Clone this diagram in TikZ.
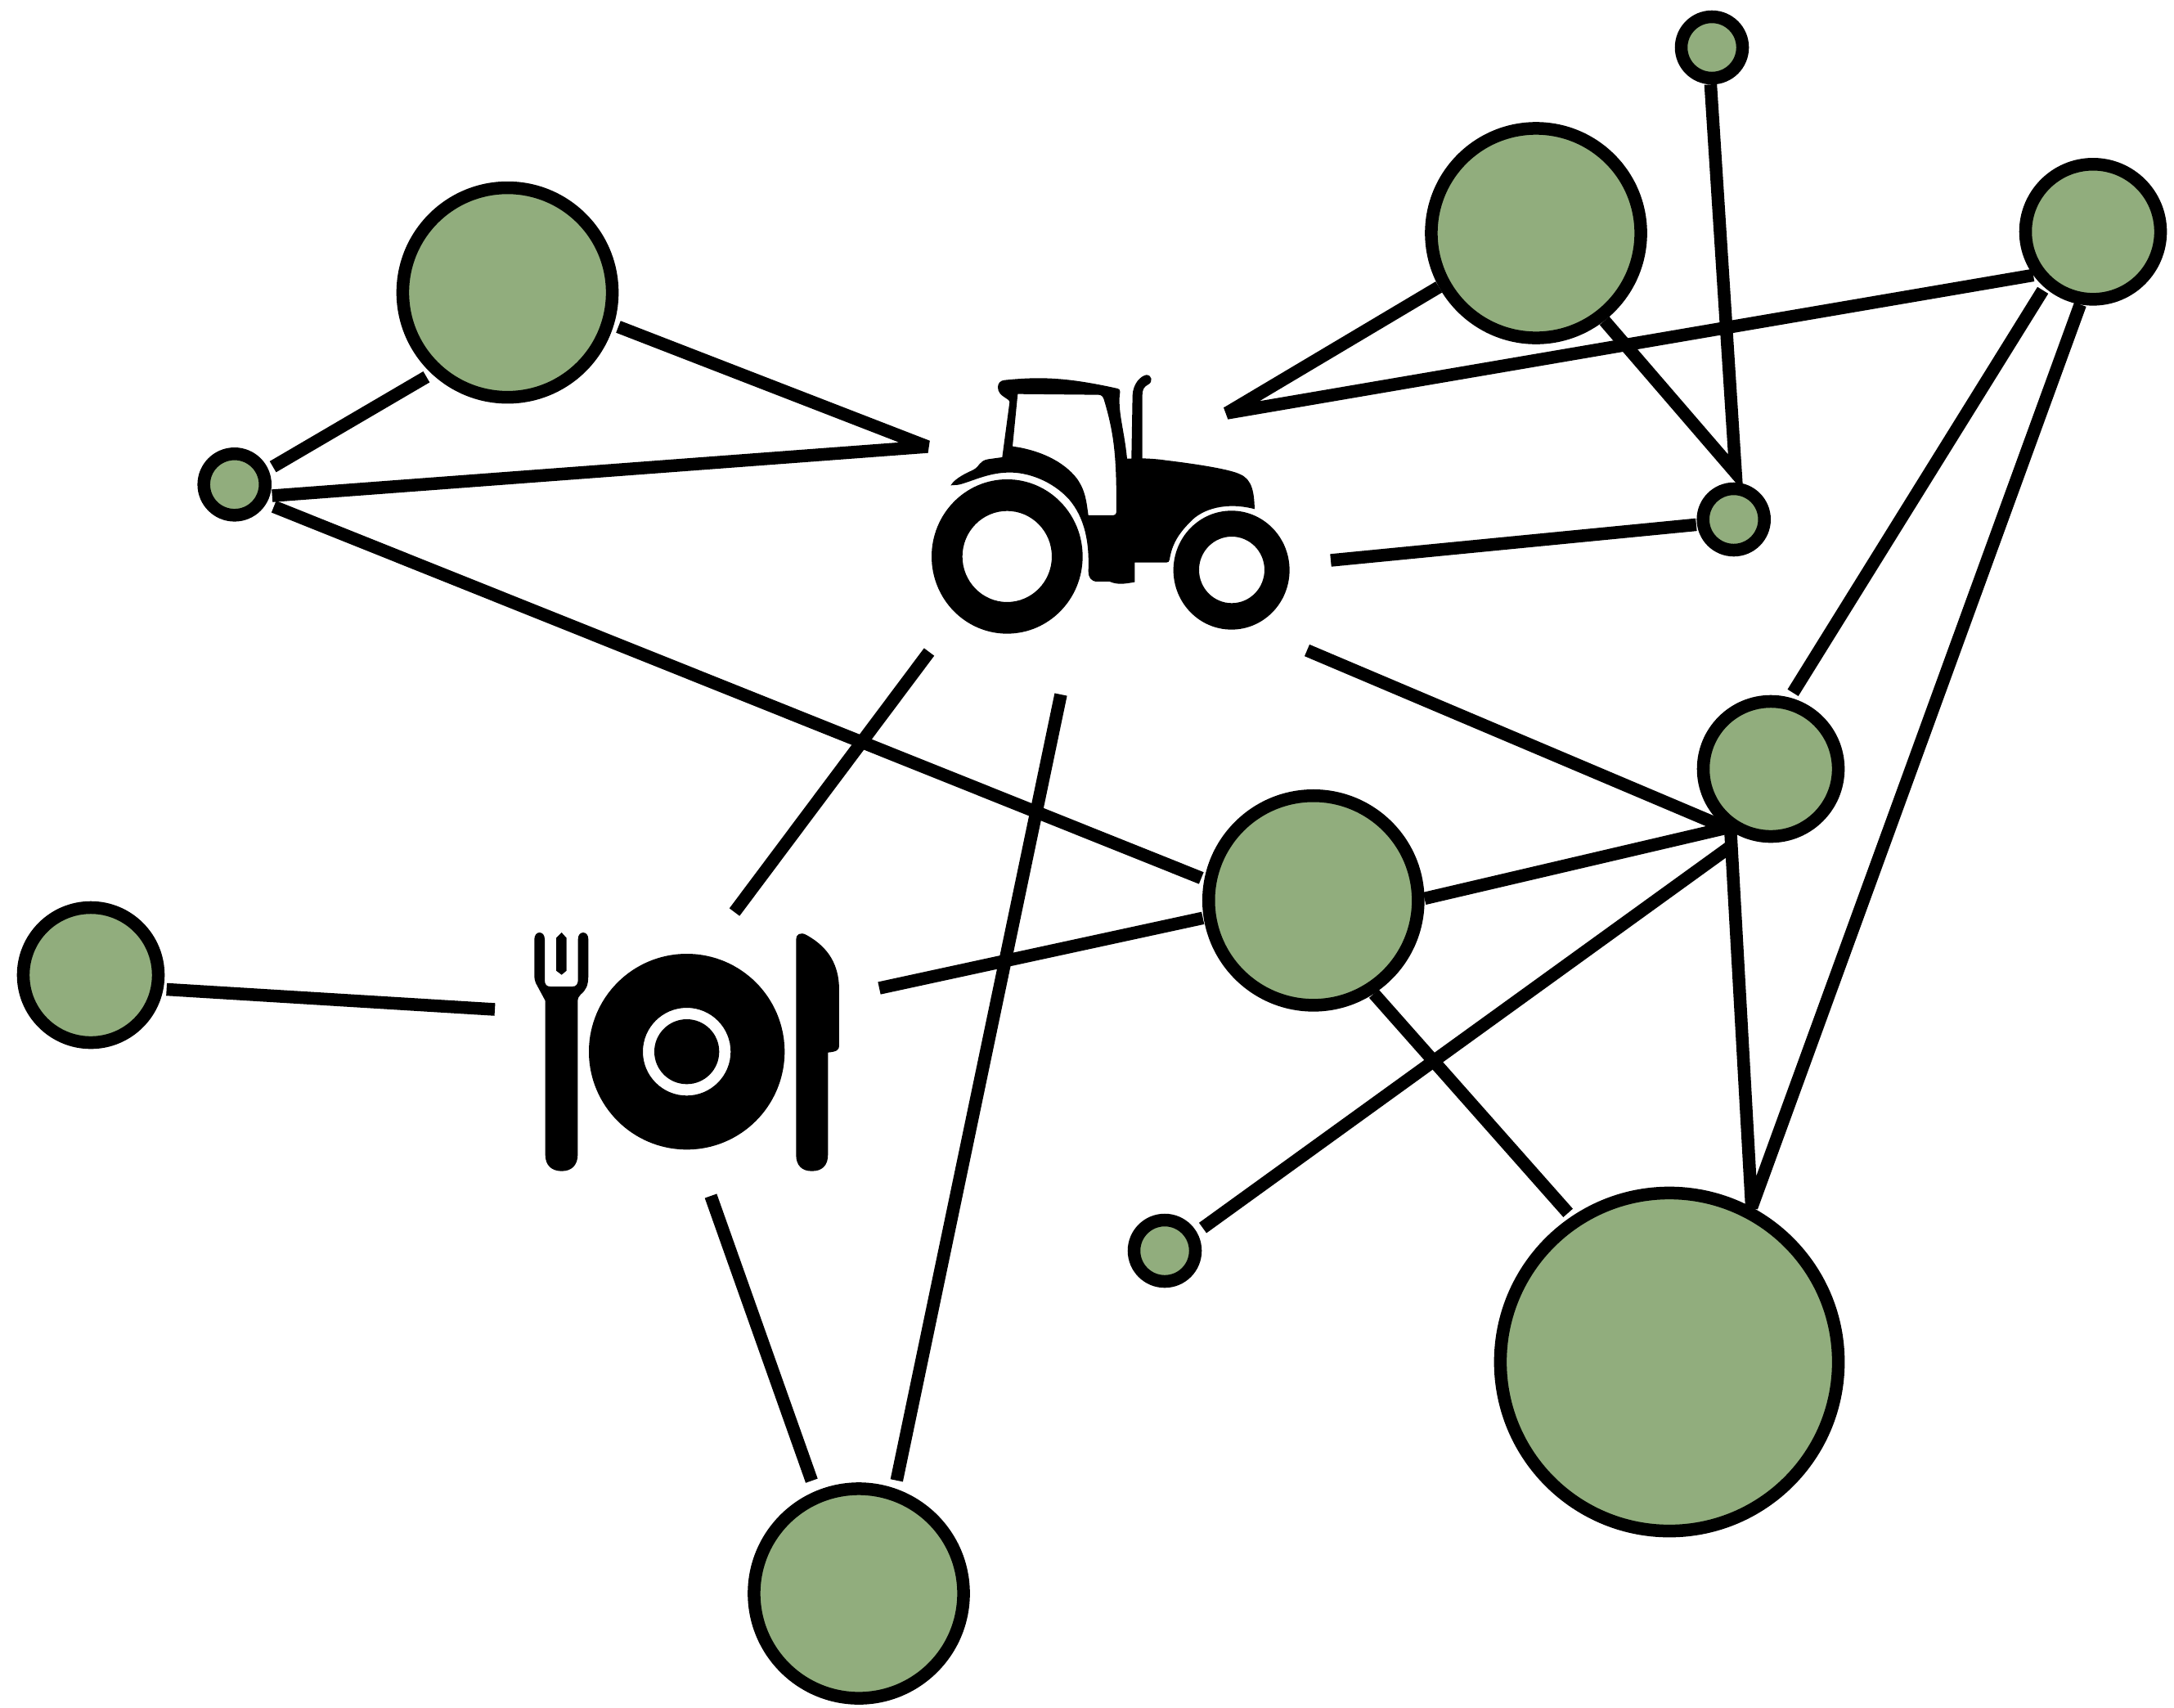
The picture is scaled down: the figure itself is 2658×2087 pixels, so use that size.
\documentclass[tikz,border=0pt]{standalone}
\usepackage{amsmath}
\definecolor{leaf}{RGB}{145,173,125}

\begin{document}
\begin{tikzpicture}[x=0.01cm,y=-0.01cm]
  \tikzstyle{every node}+=[inner sep=0pt]
  \tikzstyle{ball}=[circle,draw=black,fill=leaf,line width=0.155cm]
  \tikzstyle{ballS}=[ball,minimum size=0.75cm]
  \tikzstyle{ballM}=[ball,minimum size=1.65cm]
  \tikzstyle{ballL}=[ball,minimum size=2.56cm]
  \tikzstyle{ballH}=[ball,minimum size=4.13cm]
  \tikzstyle{link}=[black,line width=0.155cm,line join=bevel]
  \useasboundingbox (0,0) rectangle (2658,2087);

  \node [ballS] (sm1) at (286.7,592.3) {};
  \node [ballL] (lg1) at (620.5,357.6) {};
  \node [ballM] (md1) at (111,1192) {};
  \node [ballL] (lg2) at (1050,1948) {};
  \node [ballL] (lg3) at (1605.8,1100.8) {};
  \node [ballS] (sm2) at (1424,1529) {};
  \node [ballH] (hg1) at (2041,1665) {};
  \node [ballL] (lg4) at (1878,285) {};
  \node [ballS] (sm3) at (2093,58) {};
  \node [ballM] (md2) at (2559,283.3) {};
  \node [ballS] (sm4) at (2119.7,635) {};
  \node [ballM] (md3) at (2165,940) {};

  \coordinate (trA) at (1134,546);
  \coordinate (trE) at (1500,505);
  \coordinate (trF) at (1627,685);
  \coordinate (trG) at (1598,795);
  \coordinate (trB) at (1136,797);
  \coordinate (trC) at (1297,849);
  \coordinate (plN) at (605,1234);
  \coordinate (plM) at (1075,1208);
  \coordinate (plT) at (898,1115);
  \coordinate (plB) at (869,1462);
  \coordinate (hubS) at (2122,578);

  \draw [link,shorten <=.065cm,shorten >=.075cm] (sm1.24) -- (lg1.227);
  \draw [link,shorten <=.06cm,shorten >=.03cm] (lg1.343) -- (trA) -- (sm1.342);
  \draw [link,shorten <=.1cm,shorten >=.04cm] (sm1.329) -- (lg3.169);
  \draw [link,shorten <=.04cm] (md1.349) -- (plN);
  \draw [link] (trB) -- (plT);
  \draw [link,shorten >=.1cm] (trC) -- (lg2.71);
  \draw [link,shorten >=.136cm] (plB) -- (lg2.113);
  \draw [link,shorten >=.01cm] (plM) -- (lg3.189);
  \draw [link,shorten >=.01cm] (trF) -- (sm4.188);
  \draw [link] (trG) -- (md3.233) -- (lg3.1);
  \draw [link] (lg4.209) -- (trE) -- (md2.216);
  \draw [link,shorten <=.07cm,shorten >=.04cm] (md3.75) -- (md2.229);
  \draw [link,shorten <=-.1cm] (md3.237) -- (hg1.62) -- (md2.260);
  \draw [link,line join=miter] (lg4.308) -- (hubS) -- (sm3.268);
  \draw [link,shorten >=.06cm] (lg3.303) -- (hg1.124);
  \draw [link,shorten <=.09cm,shorten >=.2cm] (sm2.30) -- (md3.248);

  \begin{scope}[shift={(1100,430)},scale=0.3333]
    \fill [black,even odd rule] (394,751) ellipse (277 and 283) (394,751) ellipse (164 and 167);
    \fill [black,even odd rule] (1217,801) ellipse (213 and 218) (1218,800) ellipse (120 and 122);
    \fill [black,even odd rule] (187,490)
      .. controls (205,462) and (245,445) .. (270,433)
      .. controls (295,420) and (290,400) .. (325,394)
      -- (376,387) -- (403,185)
      .. controls (403,170) and (360,165) .. (360,130)
      .. controls (360,115) and (370,105) .. (385,104)
      .. controls (520,90) and (620,95) .. (800,135)
      .. controls (815,140) and (805,150) .. (806,180)
      .. controls (806,240) and (825,300) .. (834,392)
      -- (850,392) -- (854,160)
      .. controls (856,115) and (885,88) .. (905,85)
      .. controls (925,85) and (930,110) .. (912,120)
      .. controls (895,128) and (890,140) .. (890,160)
      -- (890,391)
      .. controls (920,392) and (950,394) .. (975,398)
      .. controls (1100,413) and (1215,432) .. (1250,450)
      .. controls (1295,470) and (1300,520) .. (1302,577)
      .. controls (1200,550) and (1110,575) .. (1065,625)
      .. controls (1020,670) and (998,710) .. (990,762)
      .. controls (989,770) and (985,773) .. (978,773)
      -- (862,773) -- (862,845)
      .. controls (820,852) and (800,855) .. (770,843)
      -- (725,843)
      .. controls (700,843) and (692,825) .. (692,805)
      .. controls (696,700) and (680,610) .. (620,540)
      .. controls (560,475) and (470,440) .. (395,443)
      .. controls (320,445) and (260,478) .. (215,488)
      -- cycle
      (433,155) -- (730,158)
      .. controls (740,158) and (746,165) .. (749,175)
      .. controls (790,310) and (795,400) .. (795,585)
      .. controls (795,595) and (790,600) .. (780,600)
      -- (692,600)
      .. controls (685,550) and (682,510) .. (650,465)
      .. controls (600,400) and (510,360) .. (414,347)
      -- cycle;
  \end{scope}

  \begin{scope}[shift={(630,1120)},scale=0.3333]
    \fill [black,even odd rule] (629,497) circle (359) (629,497) circle (161) (629,497) circle (119);
    \fill [black] (110,875) -- (110,310) -- (75,245)
      .. controls (70,235) and (70,225) .. (70,215) -- (70,85)
      .. controls (70,70) and (78,60) .. (89,60)
      .. controls (100,60) and (108,70) .. (108,85) -- (108,235)
      .. controls (108,250) and (115,258) .. (128,258) -- (210,258)
      .. controls (222,258) and (230,250) .. (230,235) -- (230,85)
      .. controls (230,70) and (238,60) .. (249,60)
      .. controls (260,60) and (268,70) .. (268,85) -- (268,215)
      .. controls (268,255) and (260,270) .. (240,287)
      .. controls (232,295) and (229,300) .. (229,315) -- (229,875)
      .. controls (229,915) and (205,935) .. (170,935)
      .. controls (135,935) and (110,915) .. (110,875) -- cycle;
    \fill [black] (150,80) -- (170,60) -- (188,80) -- (188,200) -- (170,215) -- (150,200) -- cycle;
    \fill [black] (1030,85)
      .. controls (1030,68) and (1045,55) .. (1070,70)
      .. controls (1150,115) and (1188,180) .. (1188,270)
      -- (1188,475)
      .. controls (1188,490) and (1180,497) .. (1147,500)
      -- (1147,875)
      .. controls (1147,915) and (1125,935) .. (1088,935)
      .. controls (1052,935) and (1030,915) .. (1030,875)
      -- cycle;
  \end{scope}
\end{tikzpicture}
\end{document}
